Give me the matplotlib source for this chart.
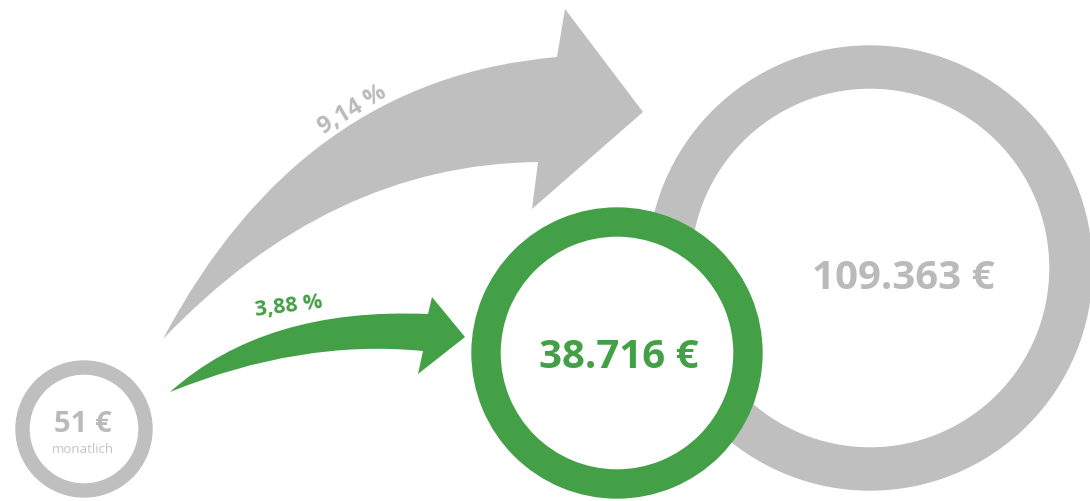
import matplotlib
matplotlib.use("Agg")
import matplotlib.pyplot as plt
from matplotlib.patches import Wedge, Circle, PathPatch
from matplotlib.path import Path

# ---- data ----
amounts = [51, 38716, 109363]          # monthly rate, result at low rate, result at high rate
amount_labels = ["51 €", "38.716 €", "109.363 €"]
sub_labels = ["monatlich", "", ""]
rates = [3.88, 9.14]
rate_labels = ["3,88 %", "9,14 %"]

GREEN = "#43a047"
GRAY = "#bfbfbf"
TXT_GRAY = "#bababa"

W, H = 1090, 502
fig = plt.figure(figsize=(W / 100, H / 100), dpi=100)
ax = fig.add_axes([0, 0, 1, 1])
ax.set_xlim(0, W)
ax.set_ylim(H, 0)
ax.set_aspect("equal")
ax.axis("off")

font = "Open Sans"

# ---- rings ----
# big gray ring (high rate)
ax.add_patch(Wedge((870, 269), 222, 0, 360, width=42, color=GRAY, zorder=1))
# green ring (low rate) with white interior covering the gray ring
ax.add_patch(Circle((617, 354), 145, facecolor="white", edgecolor="none", zorder=3))
ax.add_patch(Wedge((617, 354), 145, 0, 360, width=28, color=GREEN, zorder=4))
# small gray ring (monthly)
ax.add_patch(Wedge((84, 430), 68, 0, 360, width=13, color=GRAY, zorder=2))


def arrow(tail, up_ctrl, head_start, head_top, tip, head_bot, head_low, low_ctrl, color, z):
    verts = [tail, up_ctrl, head_start, head_top, tip, head_bot, head_low,
             low_ctrl, tail, tail]
    codes = [Path.MOVETO, Path.CURVE3, Path.CURVE3, Path.LINETO, Path.LINETO,
             Path.LINETO, Path.LINETO, Path.CURVE3, Path.CURVE3, Path.CLOSEPOLY]
    ax.add_patch(PathPatch(Path(verts, codes), facecolor=color, edgecolor="none", zorder=z))


# gray arrow (high rate)
arrow((163, 340), (300, 80), (557, 58), (565, 10), (643, 113), (532, 210),
      (538, 163), (330, 165), GRAY, 2)
# green arrow (low rate)
arrow((170, 393), (265, 308), (428, 315), (432, 298), (465, 338), (418, 375),
      (423, 352), (300, 340), GREEN, 2)

# ---- texts ----
ax.text(83, 425, amount_labels[0], ha="center", va="center", fontsize=21,
        fontweight="bold", color=TXT_GRAY, family=font, zorder=5)
ax.text(83, 450, sub_labels[0], ha="center", va="center", fontsize=9.5,
        color="#c4c4c4", family=font, zorder=5)
ax.text(619, 358, amount_labels[1], ha="center", va="center", fontsize=29,
        fontweight="bold", color=GREEN, family=font, zorder=5)
ax.text(903, 279, amount_labels[2], ha="center", va="center", fontsize=29,
        fontweight="bold", color=TXT_GRAY, family=font, zorder=5)

ax.text(353, 110, rate_labels[1], ha="center", va="center", fontsize=17,
        fontweight="bold", color=TXT_GRAY, family=font, rotation=31,
        rotation_mode="anchor", zorder=5)
ax.text(289, 306, rate_labels[0], ha="center", va="center", fontsize=15.5,
        fontweight="bold", color=GREEN, family=font, rotation=7,
        rotation_mode="anchor", zorder=5)

fig.savefig("out.png", dpi=100, facecolor="white")
